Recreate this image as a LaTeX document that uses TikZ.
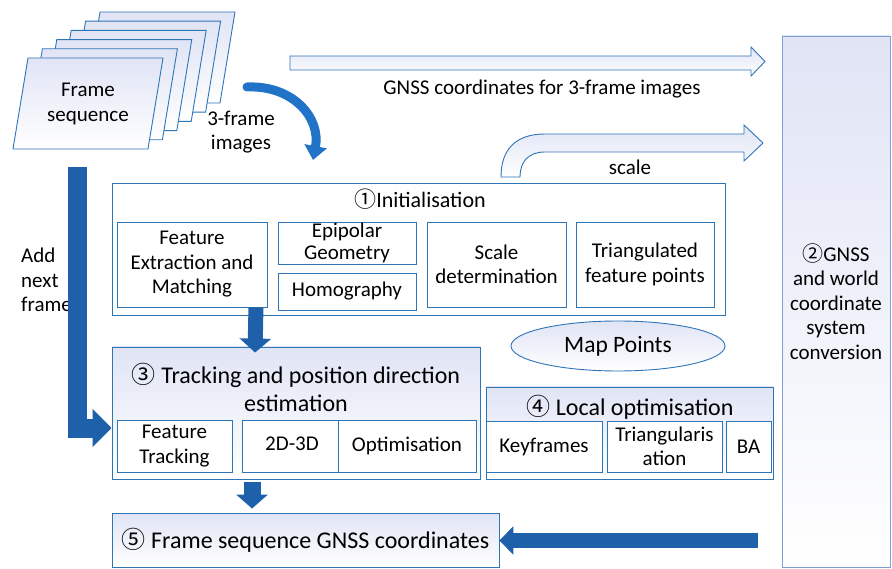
\documentclass[tikz,border=0pt]{standalone}
\usepackage{fontspec}
\setmainfont{Carlito}
\newfontfamily\circfont{Noto Sans CJK SC}
\usetikzlibrary{arrows.meta,shapes.geometric,calc}
\definecolor{bord}{RGB}{46,117,182}
\definecolor{lbord}{RGB}{125,160,212}
\definecolor{darr}{RGB}{30,96,170}
\definecolor{carr}{RGB}{33,115,200}
\definecolor{lav}{RGB}{224,228,245}
\newcommand\fsbody{\fontsize{21}{24.5}\selectfont}
\newcommand\fstitle{\fontsize{24}{28}\selectfont}
\newcommand\cnum[1]{{\circfont #1}}
\tikzset{
  box/.style={draw=bord, line width=0.9pt, fill=white, align=center, inner sep=0pt, font=\fsbody},
  gbox/.style={box, top color=lav, bottom color=white},
  txt/.style={align=center, inner sep=0pt, font=\fsbody},
  ttl/.style={align=center, inner sep=0pt, font=\fstitle},
  hollow/.style={draw=bord, line width=0.9pt, top color=lav, bottom color=white, line join=miter},
  framesheet/.style={draw=bord, line width=0.9pt, top color=lav, bottom color=white},
}
\begin{document}
\begin{tikzpicture}[x=1pt, y=-1pt]
\useasboundingbox (0,0) rectangle (892,569);

% frame stack
\foreach \k in {5,4,3,2,1,0}{
  \path[framesheet] ($(28,58)+\k*(14.4,-9.2)$) -- ($(163,58)+\k*(14.4,-9.2)$)
     -- ($(148,149)+\k*(14.4,-9.2)$) -- ($(13,149)+\k*(14.4,-9.2)$) -- cycle;
}
\node[txt] (frames) at (88,104) {Frame\\sequence};
\node[txt] (threeimg) at (241,132) {3-frame\\images};

% curved arrow
\coordinate (cstart) at (247,87);
\coordinate (cend) at (313,160);
\draw[carr, line width=9pt, line cap=round, -{Triangle[width=22pt,length=14pt]}]
  (cstart) .. controls (293,85) and (321,118) .. (cend);

% top hollow arrow
\path[hollow] (290,56) -- (751,56) -- (751,47) -- (765,61.5) -- (751,76) -- (751,70) -- (290,70) -- cycle;
\node[txt] (gnsslbl) at (542,89) {GNSS coordinates for 3-frame images};

% scale bent arrow
\path[hollow] (501,177) .. controls (501,150) and (515,134) .. (545,134) -- (744,134) -- (744,125)
  -- (763,143) -- (744,161) -- (744,152) -- (545,152) .. controls (528,152) and (520,162) .. (520,177) -- cycle;
\node[txt] (scalelbl) at (630,167) {scale};

% right tall box
\node[gbox, draw=lbord, minimum width=108pt, minimum height=531pt] (conv) at (836,301.5)
  {\cnum{②}GNSS\\and world\\coordinate\\system\\conversion};

% initialisation
\node[box, minimum width=613pt, minimum height=132pt] (init) at (418.5,249) {};
\node[txt, font=\fontsize{22}{26}\selectfont] (inittl) at (420,199) {\cnum{①}Initialisation};
\node[box, minimum width=150pt, minimum height=85pt] (fem) at (192,264.5) {Feature\\Extraction and\\Matching};
\node[box, minimum width=138pt, minimum height=42pt, font=\fontsize{21}{22}\selectfont] (epi) at (347,243) {Epipolar\\Geometry};
\node[box, minimum width=138pt, minimum height=37pt] (hom) at (347,291.5) {Homography};
\node[box, minimum width=139pt, minimum height=85pt] (scl) at (496.5,264.5) {Scale\\determination};
\node[box, minimum width=138pt, minimum height=85pt] (tri) at (645,264.5) {Triangulated\\feature points};

% map points
\node[ellipse, draw=bord, line width=0.9pt, top color=lav, bottom color=white, minimum width=214pt,
  minimum height=50pt, inner sep=0pt, font=\fontsize{23.5}{28}\selectfont] (map) at (618,346) {Map Points};

% tracking
\node[gbox, minimum width=368pt, minimum height=132pt] (trk) at (296,413) {};
\node[ttl] (trktl) at (296,387) {\cnum{③} Tracking and position direction\\estimation};
\node[box, minimum width=115pt, minimum height=52pt] (ft) at (174.5,446) {Feature\\Tracking};
\node[box, minimum width=100pt, minimum height=52pt] (d23) at (292,446) {};
\node[txt] (d23t) at (292,444) {2D-3D};
\node[box, minimum width=138pt, minimum height=52pt] (opt) at (407,446) {Optimisation};

% local optimisation
\node[gbox, minimum width=287pt, minimum height=92pt] (loc) at (629.5,433) {};
\node[ttl] (loctl) at (630,407) {\cnum{④} Local optimisation};
\node[box, minimum width=116pt, minimum height=51pt] (kf) at (544,446.5) {Keyframes};
\node[box, minimum width=115pt, minimum height=51pt] (trg) at (664.5,446.5) {Triangularis\\ation};
\node[box, minimum width=45pt, minimum height=51pt] (ba) at (748.5,446.5) {BA};

% frame sequence GNSS coordinates
\node[gbox, minimum width=387pt, minimum height=54pt, font=\fstitle] (gnss) at (305.5,540)
  {\cnum{⑤} Frame sequence GNSS coordinates};

% add next frame
\node[txt, align=left, anchor=west] (addlbl) at (21,280) {Add\\next\\frame};
\coordinate (addstart) at (77.5,167);
\draw[darr, line width=19pt, line join=miter, -{Triangle[width=37pt,length=19pt]}]
  (addstart) |- ($(trk.west)+(0,15)$);

% init -> tracking
\draw[darr, line width=15pt, -{Triangle[width=31pt,length=14pt]}]
  ($(fem.south east)+(-11.5,0)$) -- ($(trk.north west)+(143.5,6)$);

% tracking -> gnss
\draw[darr, line width=17pt, -{Triangle[width=31pt,length=14pt]}]
  ($(trk.south west)+(140.5,3)$) -- ($(gnss.north west)+(140.5,-4)$);

% conversion -> gnss
\coordinate (convout) at (758,540.5);
\draw[darr, line width=15pt, -{Triangle[width=28pt,length=14pt]}]
  (convout) -- (gnss.east |- convout);
\end{tikzpicture}
\end{document}
